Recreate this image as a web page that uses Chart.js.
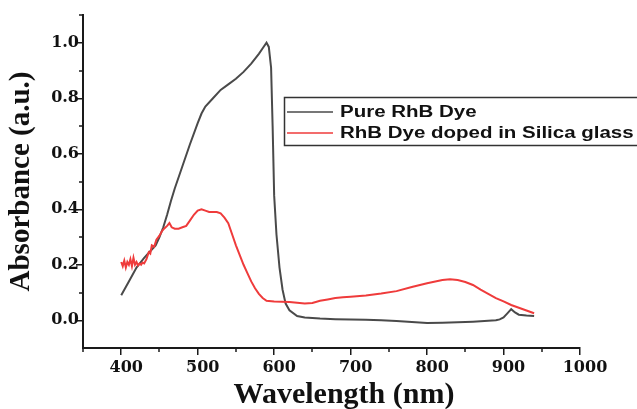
<!DOCTYPE html>
<html>
<head>
<meta charset="utf-8">
<script src="https://cdn.jsdelivr.net/npm/chart.js@4.4.1/dist/chart.umd.min.js"></script>
<style>
  html, body { margin: 0; padding: 0; background: #ffffff; }
  canvas { display: block; }
</style>
</head>
<body>
<canvas id="chart" width="637" height="409"></canvas>
<script>
// ---- Data ----
const seriesLabels = ["Pure RhB Dye", "RhB Dye doped in Silica glass"];

const pureWavelength = [400,410,420,430,440,445,450,455,460,465,470,480,490,500,505,510,520,530,540,550,560,570,580,585,590,593,596,598,600,603,607,611,615,620,630,640,650,660,680,700,720,740,760,780,800,820,840,860,880,890,895,900,905,910,915,920,930,940];
const pureAbs = [0.09,0.14,0.19,0.225,0.255,0.27,0.30,0.335,0.38,0.43,0.475,0.555,0.635,0.71,0.745,0.77,0.80,0.83,0.85,0.87,0.895,0.925,0.96,0.98,1.0,0.985,0.91,0.70,0.45,0.31,0.19,0.11,0.06,0.036,0.015,0.01,0.008,0.006,0.004,0.003,0.002,0.0,-0.003,-0.006,-0.01,-0.009,-0.007,-0.005,-0.002,0.0,0.003,0.01,0.025,0.04,0.028,0.02,0.017,0.015];

const dopedWavelength = [400,402,404,406,408,410,412,414,416,418,420,422,424,426,428,430,433,436,438,440,443,446,450,453,456,460,463,466,470,475,480,485,490,495,500,505,510,515,520,525,530,535,540,545,550,555,560,565,570,575,580,585,590,600,610,620,630,640,650,660,670,680,690,700,720,740,760,780,800,820,830,840,850,860,870,880,890,900,910,920,930,940];
const dopedAbs = [0.21,0.195,0.215,0.19,0.21,0.2,0.22,0.195,0.225,0.2,0.21,0.198,0.205,0.2,0.208,0.205,0.22,0.245,0.24,0.27,0.265,0.29,0.305,0.32,0.33,0.34,0.35,0.335,0.33,0.33,0.335,0.34,0.36,0.38,0.395,0.40,0.395,0.39,0.39,0.39,0.385,0.37,0.35,0.31,0.27,0.235,0.2,0.17,0.14,0.115,0.095,0.08,0.07,0.068,0.067,0.066,0.063,0.06,0.062,0.07,0.075,0.08,0.083,0.085,0.089,0.096,0.105,0.12,0.133,0.145,0.148,0.145,0.138,0.127,0.11,0.095,0.08,0.068,0.055,0.045,0.035,0.025];

const xTicks = [400,500,600,700,800,900,1000];
const xMinorTicks = [350,450,550,650,750,850,950];
const yTicks = [0.0,0.2,0.4,0.6,0.8,1.0];
const yMinorTicks = [0.1,0.3,0.5,0.7,0.9,1.1];
const xTitle = "Wavelength (nm)";
const yTitle = "Absorbance (a.u.)";

const seriesColors = ["#4a4a4a", "#ef3b3b"];
const axisColor = "#1a1a1a";
const serif = "'Liberation Serif', 'Times New Roman', serif";
const tickFont = "'DejaVu Serif', serif";
const sansFont = "'Liberation Sans', Arial, sans-serif";

const decorPlugin = {
  id: 'decor',
  afterDraw(chart) {
    const ctx = chart.ctx;
    const xs = chart.scales.x, ys = chart.scales.y;
    ctx.save();
    // minor ticks
    ctx.strokeStyle = axisColor;
    ctx.lineWidth = 1.5;
    xMinorTicks.forEach(v => {
      const px = Math.round(xs.getPixelForValue(v));
      ctx.beginPath(); ctx.moveTo(px, xs.top); ctx.lineTo(px, xs.top + 4); ctx.stroke();
    });
    yMinorTicks.forEach(v => {
      const py = Math.round(ys.getPixelForValue(v));
      ctx.beginPath(); ctx.moveTo(ys.right, py); ctx.lineTo(ys.right - 4, py); ctx.stroke();
    });
    // x axis title
    ctx.fillStyle = '#111';
    ctx.font = "bold 30px " + serif;
    ctx.textAlign = 'center';
    ctx.textBaseline = 'alphabetic';
    ctx.fillText(xTitle, 344, 403);
    // legend box
    ctx.strokeStyle = '#333';
    ctx.lineWidth = 1.5;
    ctx.strokeRect(284.5, 97.5, 360, 48);
    const rows = [112, 133];
    const bases = [117, 138];
    chart.data.datasets.forEach((ds, i) => {
      ctx.strokeStyle = ds.borderColor;
      ctx.lineWidth = 1.5;
      ctx.beginPath(); ctx.moveTo(287, rows[i]); ctx.lineTo(333, rows[i]); ctx.stroke();
      ctx.save();
      ctx.translate(340, bases[i]);
      ctx.scale(1.28, 1);
      ctx.fillStyle = '#111';
      ctx.font = "bold 16px " + sansFont;
      ctx.textAlign = 'left';
      ctx.textBaseline = 'alphabetic';
      ctx.fillText(ds.label, 0, 0);
      ctx.restore();
    });
    ctx.restore();
  }
};

new Chart(document.getElementById('chart'), {
  type: 'line',
  data: {
    datasets: [
      {
        label: seriesLabels[0],
        data: pureWavelength.map((x, i) => ({ x: x, y: pureAbs[i] })),
        borderColor: seriesColors[0],
        borderWidth: 2,
        pointRadius: 0,
        tension: 0,
        fill: false,
        order: 1
      },
      {
        label: seriesLabels[1],
        data: dopedWavelength.map((x, i) => ({ x: x, y: dopedAbs[i] })),
        borderColor: seriesColors[1],
        borderWidth: 2,
        pointRadius: 0,
        tension: 0,
        fill: false,
        order: 0
      }
    ]
  },
  options: {
    responsive: false,
    animation: false,
    layout: { padding: { top: 15, right: 57, left: 0, bottom: 0 } },
    plugins: { legend: { display: false }, tooltip: { enabled: false } },
    scales: {
      x: {
        type: 'linear',
        min: 350, max: 1000,
        afterBuildTicks: s => { s.ticks = xTicks.map(v => ({ value: v })); },
        afterFit: s => { s.height = 61; },
        grid: { display: true, drawOnChartArea: false, drawTicks: true, tickLength: 7, color: axisColor, lineWidth: 1.5 },
        border: { display: true, color: axisColor, width: 2 },
        ticks: {
          font: { family: tickFont, size: 16, weight: 'bold' },
          color: '#111', padding: 3, maxRotation: 0, autoSkip: false, labelOffset: 5,
          callback: v => String(v)
        }
      },
      y: {
        type: 'linear',
        min: -0.1, max: 1.1,
        afterBuildTicks: s => { s.ticks = yTicks.map(v => ({ value: v })); },
        afterFit: s => { s.width = 83; },
        grid: { display: true, drawOnChartArea: false, drawTicks: true, tickLength: 7, color: axisColor, lineWidth: 1.5 },
        border: { display: true, color: axisColor, width: 2 },
        title: {
          display: true, text: yTitle, color: '#111',
          font: { family: serif, size: 29, weight: 'bold' },
          padding: { top: 4, bottom: 0 }
        },
        ticks: {
          font: { family: tickFont, size: 16, weight: 'bold' },
          color: '#111', padding: -3, autoSkip: false,
          callback: v => Number(v).toFixed(1)
        }
      }
    }
  },
  plugins: [decorPlugin]
});
</script>
</body>
</html>
